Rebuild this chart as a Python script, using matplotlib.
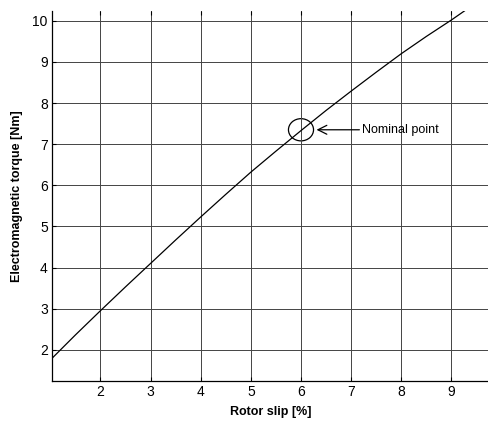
import numpy as np
import matplotlib
matplotlib.use("Agg")
import matplotlib.pyplot as plt
from matplotlib.patches import Ellipse

# slip [%] vs electromagnetic torque [Nm]
slip = [1.04, 1.5, 2.0, 2.5, 3.0, 3.5, 4.0, 4.5, 5.0, 5.5, 6.0, 6.5, 7.0, 7.5, 8.0, 8.5, 9.0, 9.26]
torque = [1.80, 2.36, 2.95, 3.53, 4.10, 4.67, 5.23, 5.78, 6.32, 6.83, 7.33, 7.82, 8.29, 8.75,
          9.20, 9.62, 10.02, 10.24]

xticks = [2, 3, 4, 5, 6, 7, 8, 9]
yticks = [2, 3, 4, 5, 6, 7, 8, 9, 10]

nominal = (6.0, 7.35)

plt.rcParams['font.family'] = ['Liberation Sans', 'DejaVu Sans']

fig = plt.figure(figsize=(4.89, 4.21), dpi=100)
ax = fig.add_axes([0.1063, 0.095, 0.8937, 0.879])

ax.plot(slip, torque, color='black', lw=0.9)

ax.set_xlim(1.033, 9.75)
ax.set_ylim(1.24, 10.24)
ax.set_xticks(xticks)
ax.set_yticks(yticks)
ax.grid(True, color='#444444', lw=0.7)
ax.tick_params(direction='in', length=3, width=0.8, labelsize=10, top=True,
               pad=3, colors='black')

ax.spines['top'].set_visible(False)
ax.spines['right'].set_visible(False)
ax.spines['left'].set_linewidth(0.9)
ax.spines['bottom'].set_linewidth(0.9)

ax.set_xlabel('Rotor slip [%]', fontsize=9, fontweight='bold', labelpad=5)
ax.set_ylabel('Electromagnetic torque [Nm]', fontsize=9, fontweight='bold', labelpad=7)

# circle round the nominal point (size in data units matching ~25x22 px)
ax.add_patch(Ellipse(nominal, width=0.50, height=0.54, fill=False,
                     edgecolor='black', lw=0.9))
ax.annotate('Nominal point', xy=(nominal[0] + 0.31, nominal[1]),
            xytext=(nominal[0] + 1.22, nominal[1]),
            fontsize=9, va='center', ha='left',
            arrowprops=dict(arrowstyle='->', color='black', lw=0.9,
                            mutation_scale=16, shrinkA=0, shrinkB=0))

fig.savefig('out.png', dpi=100)
